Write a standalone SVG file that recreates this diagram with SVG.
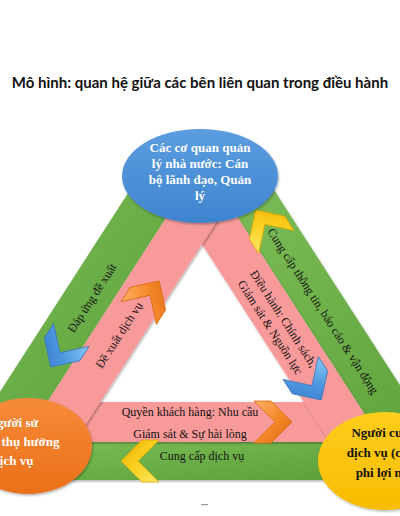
<svg xmlns="http://www.w3.org/2000/svg" width="400" height="516" viewBox="0 0 400 516">
<defs>
<style>
.t{font-family:"Liberation Serif","Times New Roman",serif;font-size:12px;fill:#141414;text-anchor:middle}
.n{font-family:"Liberation Serif","Times New Roman",serif;font-size:13px;font-weight:bold;text-anchor:middle}
.green{fill:url(#gGreen)}
.pink{fill:#f89a9a}
.band{filter:url(#sh)}
.chev{stroke-width:0.8;stroke-linejoin:miter}
</style>
<linearGradient id="gGreen" x1="0" y1="0" x2="1" y2="1">
<stop offset="0" stop-color="#7cbc57"/><stop offset="1" stop-color="#5a9f37"/>
</linearGradient>
<linearGradient id="gBlue" x1="0" y1="0" x2="0" y2="1">
<stop offset="0" stop-color="#5b9de0"/><stop offset="1" stop-color="#3f84cf"/>
</linearGradient>
<linearGradient id="gOrange" x1="0" y1="0" x2="0" y2="1">
<stop offset="0" stop-color="#f68a38"/><stop offset="1" stop-color="#ec7019"/>
</linearGradient>
<linearGradient id="gYellow" x1="0" y1="0" x2="0" y2="1">
<stop offset="0" stop-color="#fecd1c"/><stop offset="1" stop-color="#f8bc00"/>
</linearGradient>
<linearGradient id="cBlue" x1="0" y1="0" x2="1" y2="1">
<stop offset="0" stop-color="#86c8f5"/><stop offset="0.5" stop-color="#4d97e0"/><stop offset="1" stop-color="#3576c8"/>
</linearGradient>
<linearGradient id="cOrange" x1="0" y1="0" x2="1" y2="1">
<stop offset="0" stop-color="#ffb266"/><stop offset="0.5" stop-color="#f58a2c"/><stop offset="1" stop-color="#e06810"/>
</linearGradient>
<linearGradient id="cYellow" x1="0" y1="0" x2="1" y2="1">
<stop offset="0" stop-color="#ffe866"/><stop offset="0.5" stop-color="#fcd020"/><stop offset="1" stop-color="#eeb000"/>
</linearGradient>
<path id="chev" d="M-19,-21 L-2,-21 L19,0 L-2,21 L-19,21 L2,0 Z"/>
<filter id="sh" x="-10%" y="-10%" width="130%" height="130%">
<feDropShadow dx="1" dy="1.5" stdDeviation="1.2" flood-color="#000" flood-opacity="0.3"/>
</filter>
</defs>

<rect x="0" y="0" width="400" height="516" fill="#ffffff"/>

<text x="200" y="88" text-anchor="middle" font-family="Lato,'Liberation Sans',sans-serif" font-weight="bold" font-size="15" fill="#111">Mô hình: quan hệ giữa các bên liên quan trong điều hành</text>

<g id="connectors">
  <polygon class="green band" points="130,190 168.6,214 -3,480 -57,480"/>
  <polygon class="green band" points="274,190 235.4,214 407,480 461,480"/>
  <polygon class="green band" points="20,442 380,442 380,480 20,480"/>
  <polygon class="pink band" points="50,402 340,402 340,442 50,442"/>
  <polygon class="pink band" points="226.4,200 173.4,200 329.5,442 382.5,442"/>
  <polygon class="pink band" points="177.6,200 230.6,200 74.5,442 21.5,442"/>

  <text class="t" transform="translate(92,298) rotate(-57.2)" y="4">Đáp ứng đề xuất</text>
  <text class="t" transform="translate(119,335) rotate(-57.2)" y="4">Đề xuất dịch vụ</text>
  <text class="t" transform="translate(323,311) rotate(57.2)" y="4">Cung cấp thông tin, báo cáo &amp; vận động</text>
  <g transform="translate(277,323) rotate(57.2)">
    <text class="t" y="-4">Điều hành: Chính sách,</text>
    <text class="t" y="12">Giám sát &amp; Nguồn lực</text>
  </g>
  <text class="t" x="190" y="416">Quyền khách hàng: Nhu cầu</text>
  <text class="t" x="190" y="438">Giám sát &amp; Sự hài lòng</text>
  <text class="t" x="202" y="460">Cung cấp dịch vụ</text>

  <use href="#chev" class="chev" fill="url(#cBlue)" stroke="#3a78c0" transform="translate(61,351) rotate(122.8)"/>
  <use href="#chev" class="chev" fill="url(#cOrange)" stroke="#d86a12" transform="translate(149,297) rotate(-57.2)"/>
  <use href="#chev" class="chev" fill="url(#cYellow)" stroke="#e0a800" transform="translate(266,226) rotate(-122.8)"/>
  <use href="#chev" class="chev" fill="url(#cBlue)" stroke="#3a78c0" transform="translate(311,384) rotate(57.2)"/>
  <use href="#chev" class="chev" fill="url(#cOrange)" stroke="#d86a12" transform="translate(273,422)"/>
  <use href="#chev" class="chev" fill="url(#cYellow)" stroke="#e0a800" transform="translate(140,461) rotate(180)"/>
</g>

<g id="node-gov">
  <ellipse cx="200" cy="176" rx="78" ry="47" fill="url(#gBlue)" filter="url(#sh)"/>
  <text class="n" fill="#ffffff" x="200" y="152">Các cơ quan quản</text>
  <text class="n" fill="#ffffff" x="200" y="168">lý nhà nước: Cán</text>
  <text class="n" fill="#ffffff" x="200" y="184">bộ lãnh đạo, Quản</text>
  <text class="n" fill="#ffffff" x="200" y="200">lý</text>
</g>

<g id="node-user">
  <ellipse cx="28" cy="446" rx="64" ry="48" fill="url(#gOrange)" filter="url(#sh)"/>
  <text class="n" fill="#ffffff" x="13" y="427">Người sử</text>
  <text class="n" fill="#ffffff" x="13" y="446">dụng/ thụ hưởng</text>
  <text class="n" fill="#ffffff" x="13" y="465">dịch vụ</text>
</g>

<g id="node-provider">
  <ellipse cx="385" cy="461" rx="67" ry="49" fill="url(#gYellow)" filter="url(#sh)"/>
  <text class="n" fill="#111111" x="395" y="437">Người cung cấp</text>
  <text class="n" fill="#111111" x="395" y="457">dịch vụ (công, tư,</text>
  <text class="n" fill="#111111" x="395" y="477">phi lợi nhuận)</text>
</g>

<rect x="201" y="504" width="7" height="1.2" fill="#9a9a9a"/>
</svg>
